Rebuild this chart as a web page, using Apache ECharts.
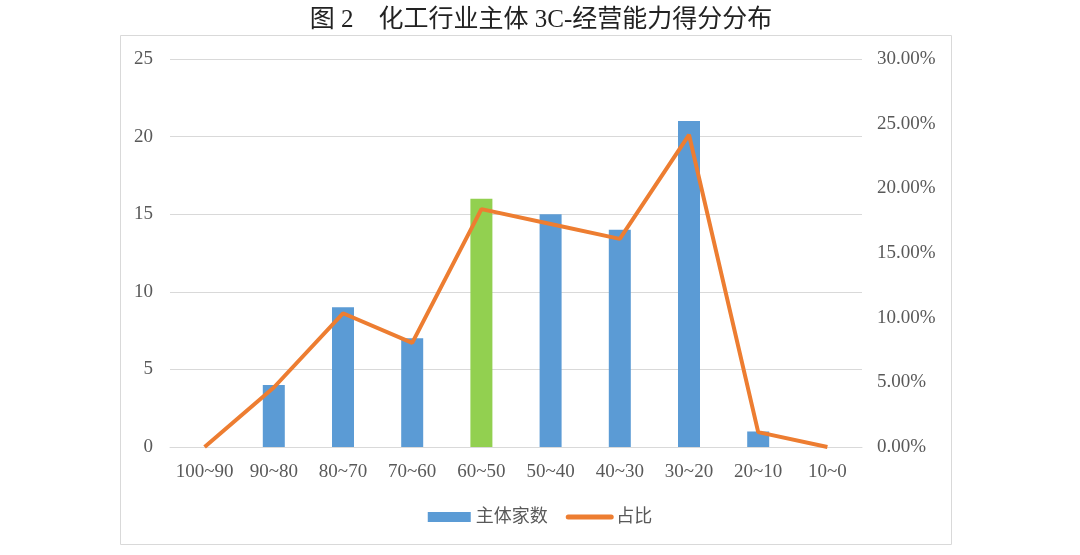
<!DOCTYPE html>
<html><head><meta charset="utf-8">
<script src="https://cdn.jsdelivr.net/npm/echarts@6/dist/echarts.min.js"></script>
<style>html,body{margin:0;padding:0;background:#fff}#c{width:1080px;height:555px}</style>
</head><body><div id="c"></div>
<script>
const titleText = '图 2　化工行业主体 3C-经营能力得分分布';
const categories = ['100~90','90~80','80~70','70~60','60~50','50~40','40~30','30~20','20~10','10~0'];
const counts = [0, 4, 9, 7, 16, 15, 14, 21, 1, 0];
const shares = [0, 4.60, 10.34, 8.05, 18.39, 17.24, 16.09, 24.14, 1.15, 0];
const highlightIndex = 4;
const seriesNames = ['主体家数', '占比'];

const serif = '"Liberation Serif","Times New Roman","Noto Sans CJK SC",serif';
const chart = echarts.init(document.getElementById('c'));
chart.setOption({
  animation: false,
  title: { text: titleText, left: 536, top: 3, textAlign: 'center',
    textStyle: { fontFamily: serif, fontSize: 25, fontWeight: 'normal', color: '#222' } },
  graphic: [{ type: 'rect', shape: { x: 120.5, y: 35.5, width: 831, height: 509 },
    style: { fill: 'none', stroke: '#d9d9d9', lineWidth: 1 }, silent: true }],
  grid: { left: 170, right: 218, top: 59, bottom: 108, outerBoundsMode: 'none' },
  legend: { top: 503, left: 'center', itemGap: 18, itemWidth: 43, itemHeight: 10,
    textStyle: { fontFamily: serif, fontSize: 18, color: '#595959' },
    data: [{ name: seriesNames[0], icon: 'rect' },
           { name: seriesNames[1], itemStyle: { opacity: 0 }, lineStyle: { width: 5, cap: 'round' } }] },
  xAxis: { type: 'category', data: categories,
    axisLine: { lineStyle: { color: '#d9d9d9', width: 1 } }, axisTick: { show: false },
    axisLabel: { fontFamily: serif, fontSize: 19, color: '#595959', margin: 16, interval: 0 } },
  yAxis: [
    { type: 'value', min: 0, max: 25, interval: 5,
      axisLine: { show: false }, axisTick: { show: false },
      axisLabel: { fontFamily: serif, fontSize: 19, color: '#595959', margin: 17 },
      splitLine: { lineStyle: { color: '#d9d9d9', width: 1 } } },
    { type: 'value', min: 0, max: 30, interval: 5, position: 'right',
      axisLine: { show: false }, axisTick: { show: false },
      axisLabel: { fontFamily: serif, fontSize: 19, color: '#595959', margin: 15,
        formatter: v => v.toFixed(2) + '%' },
      splitLine: { show: false } }
  ],
  series: [
    { name: seriesNames[0], type: 'bar', barWidth: 22, yAxisIndex: 0,
      itemStyle: { color: '#5B9BD5' },
      data: counts.map((v, i) => i === highlightIndex ? { value: v, itemStyle: { color: '#92D050' } } : v) },
    { name: seriesNames[1], type: 'line', yAxisIndex: 1, data: shares, symbol: 'none',
      lineStyle: { color: '#ED7D31', width: 4 }, itemStyle: { color: '#ED7D31' } }
  ]
});
</script></body></html>
